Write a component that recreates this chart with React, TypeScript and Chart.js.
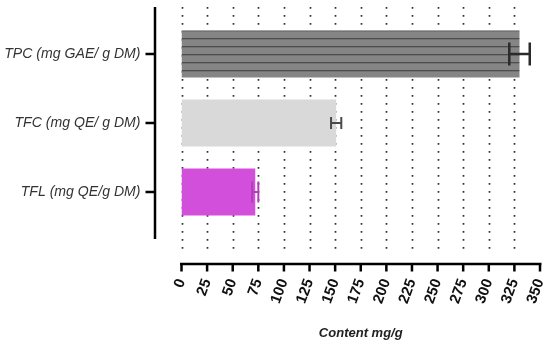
import React, { useEffect, useRef } from "react";
import { Chart, registerables } from "chart.js";

Chart.register(...registerables);

const categories = ["TPC (mg GAE/ g DM)", "TFC (mg QE/ g DM)", "TFL (mg QE/g DM)"];
const values = [330, 151, 72];
const errors = [10, 5, 3];
const xTicks = [0, 25, 50, 75, 100, 125, 150, 175, 200, 225, 250, 275, 300, 325, 350];
const xTitle = "Content mg/g";

const barColors = ["#7f7f7f", "#d9d9d9", "#d24fdb"];
const errColors = ["#2b2b2b", "#4a4a4a", "#b23cbb"];
const errWidths = [2.5, 2, 2];
const capHalf = [11.5, 6, 10.5];

function makeStripePattern(): CanvasPattern | string {
  const c = document.createElement("canvas");
  c.width = 8;
  c.height = 8;
  const g = c.getContext("2d");
  if (!g) return "#7f7f7f";
  g.fillStyle = "#858585";
  g.fillRect(0, 0, 8, 8);
  g.fillStyle = "#4d4d4d";
  g.fillRect(0, 6, 8, 1.3);
  const p = g.createPattern(c, "repeat");
  return p || "#7f7f7f";
}

export default function App() {
  const ref = useRef<HTMLCanvasElement | null>(null);

  useEffect(() => {
    const canvas = ref.current;
    if (!canvas) return;
    const stripe = makeStripePattern();

    const decor = {
      id: "decor",
      beforeDatasetsDraw(chart: any) {
        const ctx = chart.ctx;
        const x = chart.scales.x;
        ctx.save();
        ctx.strokeStyle = "#333333";
        ctx.lineWidth = 1.7;
        ctx.setLineDash([1.7, 6.3]);
        xTicks.slice(0, xTicks.length - 1).forEach((t) => {
          const px = Math.round(x.getPixelForValue(t)) + 0.5;
          ctx.beginPath();
          ctx.moveTo(px, 7);
          ctx.lineTo(px, 252);
          ctx.stroke();
        });
        ctx.restore();
      },
      afterDatasetsDraw(chart: any) {
        const ctx = chart.ctx;
        const x = chart.scales.x;
        const y = chart.scales.y;
        ctx.save();
        values.forEach((v, i) => {
          const cy = y.getPixelForValue(i);
          const x1 = x.getPixelForValue(v - errors[i]);
          const x2 = x.getPixelForValue(v + errors[i]);
          ctx.strokeStyle = errColors[i];
          ctx.lineWidth = errWidths[i];
          ctx.beginPath();
          ctx.moveTo(x1, cy);
          ctx.lineTo(x2, cy);
          ctx.moveTo(x1, cy - capHalf[i]);
          ctx.lineTo(x1, cy + capHalf[i]);
          ctx.moveTo(x2, cy - capHalf[i]);
          ctx.lineTo(x2, cy + capHalf[i]);
          ctx.stroke();
        });
        ctx.restore();
      },
      afterDraw(chart: any) {
        const ctx = chart.ctx;
        const x = chart.scales.x;
        const y = chart.scales.y;
        ctx.save();
        ctx.strokeStyle = "#000000";
        ctx.lineWidth = 2.5;
        // y axis
        ctx.beginPath();
        ctx.moveTo(155, 7);
        ctx.lineTo(155, 239);
        categories.forEach((_, i) => {
          const cy = y.getPixelForValue(i);
          ctx.moveTo(145.5, cy);
          ctx.lineTo(155, cy);
        });
        ctx.stroke();
        // x axis
        const ay = 264;
        ctx.beginPath();
        ctx.moveTo(x.getPixelForValue(0) - 1.5, ay);
        ctx.lineTo(x.getPixelForValue(350) + 1.5, ay);
        xTicks.forEach((t) => {
          const px = x.getPixelForValue(t);
          ctx.moveTo(px, ay);
          ctx.lineTo(px, ay + 7.5);
        });
        ctx.stroke();
        ctx.restore();
      },
    };

    const chart = new Chart(canvas, {
      type: "bar",
      data: {
        labels: categories,
        datasets: [
          {
            data: values,
            backgroundColor: [stripe, barColors[1], barColors[2]] as any,
            borderWidth: 0,
            barPercentage: 0.68,
            categoryPercentage: 1,
          },
        ],
      },
      options: {
        indexAxis: "y",
        responsive: false,
        animation: false,
        layout: { padding: { top: 19.5, right: 10, left: 0, bottom: 0 } },
        plugins: {
          legend: { display: false },
          tooltip: { enabled: false },
        },
        scales: {
          y: {
            type: "category",
            grid: { display: false, drawTicks: false },
            border: { display: false },
            ticks: {
              color: "#333333",
              padding: 41,
              font: { family: "Liberation Sans, Arial, sans-serif", size: 14.1, style: "italic" },
            },
            afterFit(scale: any) {
              scale.width = 181.5;
              scale.paddingTop = 0;
              scale.paddingBottom = 0;
            },
          },
          x: {
            type: "linear",
            min: 0,
            max: 350,
            afterBuildTicks(scale: any) {
              scale.ticks = xTicks.map((v) => ({ value: v }));
            },
            grid: { display: false, drawTicks: false },
            border: { display: false },
            ticks: {
              color: "#111111",
              padding: 50,
              minRotation: 70,
              maxRotation: 70,
              autoSkip: false,
              font: { family: "Liberation Sans, Arial, sans-serif", size: 15, weight: "bold" },
            },
            title: {
              display: true,
              text: xTitle,
              color: "#222222",
              padding: { top: 0, bottom: 3 },
              font: { family: "Liberation Sans, Arial, sans-serif", size: 13, weight: "bold", style: "italic" },
            },
            afterFit(scale: any) {
              scale.height = 117.5;
              scale.paddingLeft = 0;
              scale.paddingRight = 0;
            },
          },
        },
      },
      plugins: [decor],
    });

    return () => chart.destroy();
  }, []);

  return (
    <div style={{ position: "absolute", left: 0, top: 0, width: 550, height: 344, background: "#ffffff" }}>
      <canvas ref={ref} width={550} height={344} />
    </div>
  );
}
